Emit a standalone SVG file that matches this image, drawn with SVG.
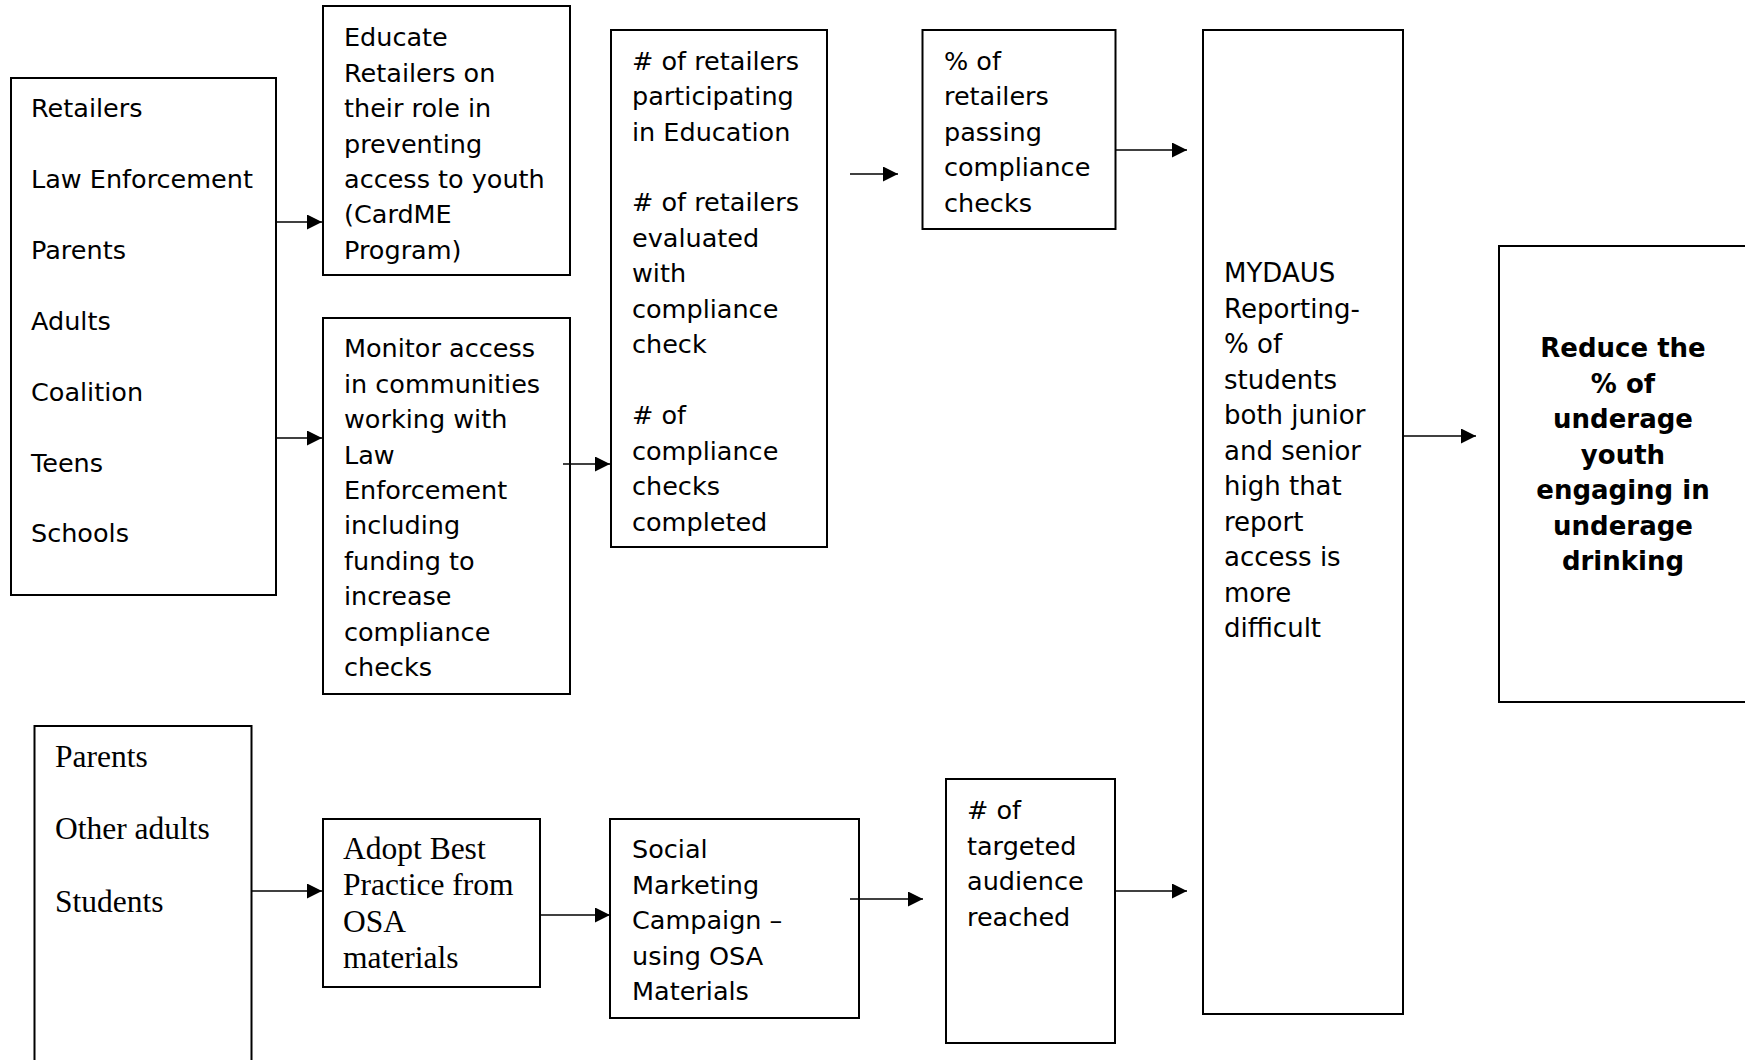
<svg xmlns="http://www.w3.org/2000/svg" width="1745" height="1060" viewBox="0 0 1745 1060">
<defs>
<marker id="ah" markerUnits="userSpaceOnUse" markerWidth="15" markerHeight="16" refX="15" refY="7.5" orient="auto">
<path d="M0,0 L15,7.5 L0,15 Z" fill="#000"/>
</marker>
<style>
.box{fill:#fff;stroke:#000;stroke-width:2}
.t{font-family:"DejaVu Sans",Verdana,sans-serif;font-size:25.5px;fill:#000}
.v{font-family:"DejaVu Sans",Verdana,sans-serif;font-size:26px;fill:#000}
.b{font-family:"DejaVu Sans",Verdana,sans-serif;font-size:26px;font-weight:bold;fill:#000;text-anchor:middle}
.s{font-family:"Liberation Serif","Times New Roman",serif;font-size:31.5px;fill:#000}
.c{stroke:#000;stroke-width:1.6;fill:none;marker-end:url(#ah)}
</style>
</defs>
<rect width="1745" height="1060" fill="#fff"/>

<g id="stakeholders">
<rect class="box" x="11" y="78" width="265" height="517"/>
<text class="t" x="31" y="117">Retailers</text>
<text class="t" x="31" y="188">Law Enforcement</text>
<text class="t" x="31" y="259">Parents</text>
<text class="t" x="31" y="330">Adults</text>
<text class="t" x="31" y="401">Coalition</text>
<text class="t" x="31" y="472">Teens</text>
<text class="t" x="31" y="542">Schools</text>
</g>

<g id="educate">
<rect class="box" x="323" y="6" width="247" height="269"/>
<text class="t" x="344" y="46">Educate</text>
<text class="t" x="344" y="81.5">Retailers on</text>
<text class="t" x="344" y="117">their role in</text>
<text class="t" x="344" y="152.5">preventing</text>
<text class="t" x="344" y="188">access to youth</text>
<text class="t" x="344" y="223">(CardME</text>
<text class="t" x="344" y="258.5">Program)</text>
</g>

<g id="monitor">
<rect class="box" x="323" y="318" width="247" height="376"/>
<text class="t" x="344" y="357">Monitor access</text>
<text class="t" x="344" y="392.5">in communities</text>
<text class="t" x="344" y="428">working with</text>
<text class="t" x="344" y="463.5">Law</text>
<text class="t" x="344" y="499">Enforcement</text>
<text class="t" x="344" y="534">including</text>
<text class="t" x="344" y="569.5">funding to</text>
<text class="t" x="344" y="605">increase</text>
<text class="t" x="344" y="640.5">compliance</text>
<text class="t" x="344" y="676">checks</text>
</g>

<g id="outputs">
<rect class="box" x="611" y="30" width="216" height="517"/>
<text class="t" x="632" y="69.5">#  of retailers</text>
<text class="t" x="632" y="105">participating</text>
<text class="t" x="632" y="140.5">in Education</text>
<text class="t" x="632" y="211">#  of retailers</text>
<text class="t" x="632" y="246.5">evaluated</text>
<text class="t" x="632" y="282">with</text>
<text class="t" x="632" y="317.5">compliance</text>
<text class="t" x="632" y="353">check</text>
<text class="t" x="632" y="424">#  of</text>
<text class="t" x="632" y="459.5">compliance</text>
<text class="t" x="632" y="495">checks</text>
<text class="t" x="632" y="530.5">completed</text>
</g>

<g id="passing">
<rect class="box" x="922.5" y="30" width="193" height="199"/>
<text class="t" x="944" y="69.5">% of</text>
<text class="t" x="944" y="105">retailers</text>
<text class="t" x="944" y="140.5">passing</text>
<text class="t" x="944" y="176">compliance</text>
<text class="t" x="944" y="211.5">checks</text>
</g>

<g id="mydaus">
<rect class="box" x="1203" y="30" width="200" height="984"/>
<text class="v" x="1224" y="282">MYDAUS</text>
<text class="v" x="1224" y="317.5">Reporting-</text>
<text class="v" x="1224" y="353">% of</text>
<text class="v" x="1224" y="388.5">students</text>
<text class="v" x="1224" y="424">both junior</text>
<text class="v" x="1224" y="459.5">and senior</text>
<text class="v" x="1224" y="495">high that</text>
<text class="v" x="1224" y="530.5">report</text>
<text class="v" x="1224" y="566">access is</text>
<text class="v" x="1224" y="601.5">more</text>
<text class="v" x="1224" y="637">difficult</text>
</g>

<g id="goal">
<rect class="box" x="1499" y="246" width="260" height="456"/>
<text class="b" x="1623" y="357">Reduce the</text>
<text class="b" x="1623" y="392.5">% of</text>
<text class="b" x="1623" y="428">underage</text>
<text class="b" x="1623" y="463.5">youth</text>
<text class="b" x="1623" y="499">engaging in</text>
<text class="b" x="1623" y="534.5">underage</text>
<text class="b" x="1623" y="570">drinking</text>
</g>

<g id="audiences">
<rect class="box" x="34.5" y="726" width="217" height="345"/>
<text class="s" x="55" y="767">Parents</text>
<text class="s" x="55" y="839">Other adults</text>
<text class="s" x="55" y="912">Students</text>
</g>

<g id="adopt">
<rect class="box" x="323" y="819" width="217" height="168"/>
<text class="s" x="343" y="859">Adopt Best</text>
<text class="s" x="343" y="895">Practice from</text>
<text class="s" x="343" y="931.5">OSA</text>
<text class="s" x="343" y="968">materials</text>
</g>

<g id="social">
<rect class="box" x="610" y="819" width="249" height="199"/>
<text class="t" x="632" y="858">Social</text>
<text class="t" x="632" y="893.5">Marketing</text>
<text class="t" x="632" y="929">Campaign –</text>
<text class="t" x="632" y="964.5">using OSA</text>
<text class="t" x="632" y="1000">Materials</text>
</g>

<g id="reached">
<rect class="box" x="946" y="779" width="169" height="264"/>
<text class="t" x="967" y="819">#  of</text>
<text class="t" x="967" y="854.5">targeted</text>
<text class="t" x="967" y="890">audience</text>
<text class="t" x="967" y="925.5">reached</text>
</g>

<g id="connectors">
<line class="c" x1="276" y1="222" x2="322" y2="222"/>
<line class="c" x1="276" y1="438" x2="322" y2="438"/>
<line class="c" x1="563" y1="464" x2="610" y2="464"/>
<line class="c" x1="850" y1="174" x2="898" y2="174"/>
<line class="c" x1="1116" y1="150" x2="1187" y2="150"/>
<line class="c" x1="1403" y1="436" x2="1476" y2="436"/>
<line class="c" x1="251" y1="891" x2="322" y2="891"/>
<line class="c" x1="540" y1="915" x2="610" y2="915"/>
<line class="c" x1="850" y1="899" x2="923" y2="899"/>
<line class="c" x1="1115" y1="891" x2="1187" y2="891"/>
</g>
</svg>
